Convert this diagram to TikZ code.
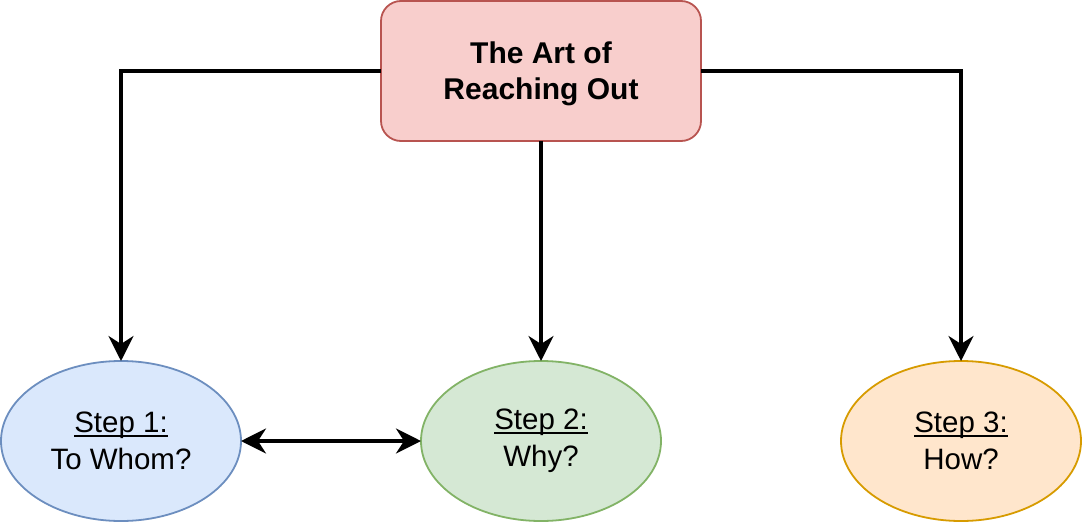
\documentclass[tikz,border=0pt]{standalone}
\usepackage{fontspec}
\setmainfont{Liberation Sans}
\usetikzlibrary{shapes.geometric,arrows.meta}
\definecolor{redfill}{HTML}{F8CECC}
\definecolor{redline}{HTML}{B85450}
\definecolor{bluefill}{HTML}{DAE8FC}
\definecolor{blueline}{HTML}{6C8EBF}
\definecolor{greenfill}{HTML}{D5E8D4}
\definecolor{greenline}{HTML}{82B366}
\definecolor{orangefill}{HTML}{FFE6CC}
\definecolor{orangeline}{HTML}{D79B00}
\newcommand\myul[1]{\setbox0\hbox{#1}\rlap{\rule[-4pt]{\wd0}{2pt}}\box0}
\tikzset{
  titlebox/.style={draw=redline, fill=redfill, line width=1.8pt, rounded corners=20pt,
    minimum width=320pt, minimum height=140pt, inner sep=0pt, outer sep=0pt,
    align=center, font=\fontsize{30}{36}\selectfont\bfseries},
  stepell/.style={ellipse, line width=1.8pt, minimum width=240pt, minimum height=160pt,
    inner sep=0pt, outer sep=0pt, align=center, font=\fontsize{29.5}{37}\selectfont},
  conn/.style={line width=3.5pt, -{Stealth[length=25pt, width=25pt, inset=8pt]}},
  conn2/.style={line width=3.5pt, {Stealth[length=25pt, width=25pt, inset=8pt]}-{Stealth[length=25pt, width=25pt, inset=8pt]}}
}
\begin{document}
\begin{tikzpicture}[x=1pt,y=-1pt]
\useasboundingbox (0,0) rectangle (1082,522);
\node[titlebox] (title) at (541,71) {\rule{0pt}{28pt}The Art of\\Reaching Out};
\node[stepell, draw=blueline, fill=bluefill] (s1) at (121,441) {\myul{Step 1:}\\To Whom?};
\node[stepell, draw=greenline, fill=greenfill] (s2) at (541,441) {\myul{Step 2:}\\Why?};
\node[stepell, draw=orangeline, fill=orangefill] (s3) at (961,441) {\myul{Step 3:}\\How?};
\draw[conn] (title.west) -| (s1.north);
\draw[conn] (title.south) -- (s2.north);
\draw[conn] (title.east) -| (s3.north);
\draw[conn2] (s1.east) -- (s2.west);
\end{tikzpicture}
\end{document}
